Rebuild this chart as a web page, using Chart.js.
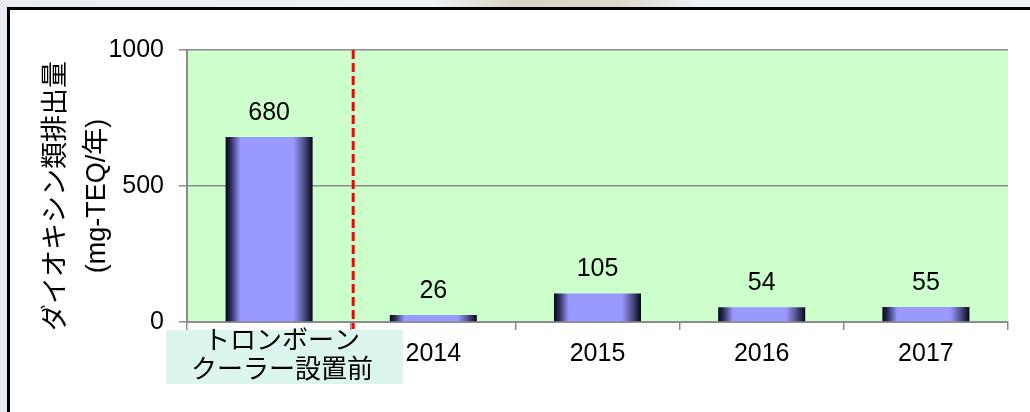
<!DOCTYPE html>
<html lang="ja">
<head>
<meta charset="utf-8">
<script src="https://cdn.jsdelivr.net/npm/chart.js@4.4.1/dist/chart.umd.min.js"></script>
<style>
  html, body { margin: 0; padding: 0; overflow: hidden; }
  body {
    width: 1030px; height: 412px; position: relative;
    background: linear-gradient(90deg, #e9edf2 0%, #eef1f6 42%, #d8d5c6 50%, #dcd9cc 60%, #eef1f6 68%, #eef1f6 100%);
  }
  #panel {
    position: absolute; left: 7px; top: 7px; right: -30px; bottom: -30px;
    background: #fff; border: 3px solid #000;
  }
  #chart { position: absolute; left: 0; top: 0; }
</style>
</head>
<body>
<div id="panel"></div>
<canvas id="chart" width="1030" height="412"></canvas>
<script>
// data
const categories = [['\u3000トロンボーン', '\u3000クーラー設置前'], '2014', '2015', '2016', '2017'];
const emissions = [680, 26, 105, 54, 55];
const yTitle = ['ダイオキシン類排出量', '(mg-TEQ/年)'];
const yMax = 1000;
const yStep = 500;

const FONT = "'Liberation Sans', 'Noto Sans CJK JP', sans-serif";
const BAR_PCT = 0.53;
const gridGray = '#8c8c8c';

// bar fill: dark edges, lavender middle
function barFill(ctx) {
    const chart = ctx.chart;
    const xs = chart.scales.x;
    if (!xs || ctx.type !== 'data') return '#9999ff';
    const cx = xs.getPixelForValue(ctx.dataIndex);
    const w = (xs.width / categories.length) * BAR_PCT;
    if (!isFinite(cx) || !isFinite(w) || w <= 0) return '#9999ff';
    const g = chart.ctx.createLinearGradient(cx - w / 2, 0, cx + w / 2, 0);
    g.addColorStop(0, '#05051a');
    g.addColorStop(0.06, '#2b2b58');
    g.addColorStop(0.17, '#9999ff');
    g.addColorStop(0.78, '#9999ff');
    g.addColorStop(0.9, '#4f4f88');
    g.addColorStop(1, '#05051a');
    return g;
}

// green plot area + pale box behind the first category label
const plotBg = {
    id: 'plotBg',
    beforeDraw(chart) {
        const { ctx, chartArea: a, scales: { x } } = chart;
        ctx.save();
        ctx.fillStyle = '#ccffcc';
        ctx.fillRect(a.left, a.top, a.right - a.left, a.bottom - a.top);
        const cx = x.getPixelForValue(0);
        ctx.fillStyle = '#dcf5ef';
        ctx.fillRect(cx - 103, x.top + 8, 237, 54);
        ctx.restore();
    }
};

const valueLabels = {
    id: 'valueLabels',
    afterDatasetsDraw(chart) {
        const ctx = chart.ctx;
        const meta = chart.getDatasetMeta(0);
        ctx.save();
        ctx.font = '25px ' + FONT;
        ctx.fillStyle = '#000';
        ctx.textAlign = 'center';
        ctx.textBaseline = 'alphabetic';
        meta.data.forEach((bar, i) => {
            ctx.fillText(String(emissions[i]), bar.x, bar.y - 17);
        });
        ctx.restore();
    }
};

// red dashed divider between the first category and the years
const divider = {
    id: 'divider',
    afterDatasetsDraw(chart) {
        const { ctx, chartArea: a, scales: { x } } = chart;
        const px = (x.getPixelForValue(0) + x.getPixelForValue(1)) / 2 + 2;
        ctx.save();
        ctx.strokeStyle = '#ff0000';
        ctx.lineWidth = 3;
        ctx.setLineDash([9, 4]);
        ctx.beginPath();
        ctx.moveTo(px, a.top);
        ctx.lineTo(px, a.bottom + 7);
        ctx.stroke();
        ctx.restore();
    }
};

const yTitlePlugin = {
    id: 'yTitlePlugin',
    afterDraw(chart) {
        const ctx = chart.ctx;
        const cy = 196;
        ctx.save();
        ctx.fillStyle = '#000';
        ctx.font = '27px ' + FONT;
        ctx.textAlign = 'center';
        ctx.textBaseline = 'middle';
        [[57, yTitle[0]], [98, yTitle[1]]].forEach(([xx, txt]) => {
            ctx.save();
            ctx.translate(xx, cy);
            ctx.rotate(-Math.PI / 2);
            ctx.fillText(txt, 0, 0);
            ctx.restore();
        });
        ctx.restore();
    }
};

new Chart(document.getElementById('chart'), {
    type: 'bar',
    data: {
        labels: categories,
        datasets: [{
            data: emissions,
            backgroundColor: barFill,
            borderWidth: 0,
            categoryPercentage: 1,
            barPercentage: BAR_PCT
        }]
    },
    options: {
        responsive: false,
        devicePixelRatio: 1,
        animation: false,
        events: [],
        layout: { padding: { top: 50, right: 22, left: 0, bottom: 0 } },
        plugins: { legend: { display: false }, tooltip: { enabled: false } },
        scales: {
            x: {
                afterFit(s) { s.height = 90; },
                grid: { offset: true, drawOnChartArea: false, drawTicks: true, tickLength: 8, color: gridGray, lineWidth: 1.5 },
                border: { display: true, color: gridGray, width: 2 },
                ticks: {
                    font: (c) => c.index === 0
                        ? { family: FONT, size: 26, lineHeight: 1.12 }
                        : { family: FONT, size: 25, lineHeight: 2.16 },
                    color: '#000',
                    padding: -3,
                    maxRotation: 0,
                    autoSkip: false,
                    crossAlign: 'near'
                }
            },
            y: {
                min: 0,
                max: yMax,
                afterFit(s) { s.width = 187; },
                grid: { drawTicks: true, tickLength: 8, color: gridGray, lineWidth: 1.5 },
                border: { display: true, color: gridGray, width: 2 },
                ticks: {
                    stepSize: yStep,
                    callback: (v) => String(v),
                    font: { family: FONT, size: 25 },
                    color: '#000',
                    padding: 15
                }
            }
        }
    },
    plugins: [plotBg, valueLabels, divider, yTitlePlugin]
});
</script>
</body>
</html>
